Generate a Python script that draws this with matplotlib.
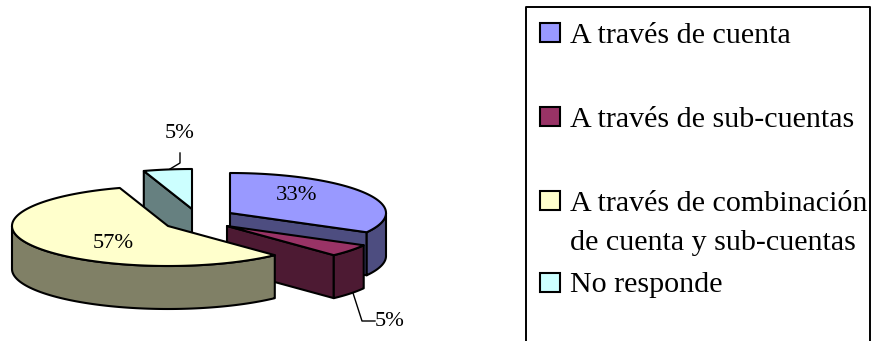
import matplotlib
matplotlib.use("Agg")
import matplotlib.pyplot as plt
from matplotlib.patches import Polygon, Rectangle
import numpy as np

# data
labels = ["A través de cuenta", "A través de sub-cuentas",
          "A través de combinación\nde cuenta y sub-cuentas", "No responde"]
values = [33, 5, 57, 5]
pct_labels = ["33%", "5%", "57%", "5%"]

top_colors = ["#9999ff", "#993366", "#ffffcc", "#ccffff"]
side_colors = ["#4d4d80", "#4d1a33", "#808066", "#668080"]

# exploded slice tips in pixels, pie squash
tips = [(230, 213), (227, 226), (168, 226), (192, 209)]
rx, ry, depth = 156, 40, 43

plt.rcParams["font.family"] = ["Liberation Serif", "DejaVu Serif"]

fig = plt.figure(figsize=(8.72, 3.41), dpi=100)
ax = fig.add_axes([0, 0, 1, 1])
ax.set_xlim(0, 872)
ax.set_ylim(341, 0)
ax.axis("off")


def rim(cx, cy, a0, a1):
    # angles clockwise from 12 o'clock
    t = np.radians(np.linspace(a0, a1, max(int(a1 - a0) * 2, 2)))
    return np.column_stack([cx + rx * np.sin(t), cy - ry * np.cos(t)])


def face(pts, color, z):
    ax.add_patch(Polygon(pts, closed=True, facecolor=color, edgecolor="black",
                         linewidth=1.5, joinstyle="round", zorder=z))


edges = np.cumsum([0] + values) * 360.0 / sum(values)
for i, (cx, cy) in enumerate(tips):
    a0, a1 = edges[i], edges[i + 1]
    z = [2, 3, 4, 1][i]
    down = np.array([0, depth])
    tip = np.array([cx, cy])

    # cut faces that look towards the viewer
    if 180 < a0 < 360:
        p = rim(cx, cy, a0, a0)[0]
        face([tip, p, p + down, tip + down], side_colors[i], z)
    if 0 < a1 < 180:
        p = rim(cx, cy, a1, a1)[0]
        face([tip, p, p + down, tip + down], side_colors[i], z)

    # outer wall, only the front half of the ellipse
    lo, hi = max(a0, 90), min(a1, 270)
    if hi > lo:
        arc = rim(cx, cy, lo, hi)
        face(np.vstack([arc, arc[::-1] + down]), side_colors[i], z)

    # top
    face(np.vstack([tip, rim(cx, cy, a0, a1)]), top_colors[i], z)

# percentage labels
label_size = 16.2
ax.text(297, 196, pct_labels[0], fontsize=label_size, ha="center", va="center", zorder=6)
ax.text(113, 243, pct_labels[2], fontsize=label_size, ha="center", va="center", zorder=6)
ax.text(375, 321, pct_labels[1], fontsize=label_size, ha="left", va="center", zorder=6)
ax.text(180, 134, pct_labels[3], fontsize=label_size, ha="center", va="center", zorder=6)

# leader lines
ax.plot([353, 362, 375], [293, 321, 321], color="black", lw=1, zorder=5)
ax.plot([180, 180, 170], [153, 163, 169], color="black", lw=1, zorder=5)

# legend box, runs off the bottom
ax.plot([526, 526, 870, 870], [345, 7, 7, 345], color="black", lw=1.4, clip_on=True)

swatch_y = [23, 107, 191, 273]
baselines = [43, 127, 211, 292]
for i in range(4):
    ax.add_patch(Rectangle((540, swatch_y[i]), 20, 18.5, facecolor=top_colors[i],
                           edgecolor="black", linewidth=1.5))
    lines = labels[i].split("\n")
    ax.text(570, baselines[i], lines[0], fontsize=21.6, ha="left", va="baseline")
    if len(lines) > 1:
        ax.text(570, 250, lines[1], fontsize=21.6, ha="left", va="baseline")

fig.savefig("out.png", dpi=100)
